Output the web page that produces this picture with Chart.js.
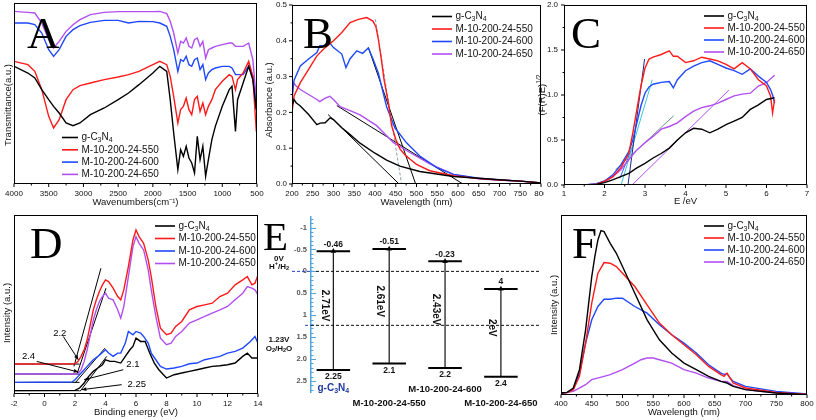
<!DOCTYPE html>
<html lang="en">
<head>
<meta charset="UTF-8">
<title>g-C3N4 and M-10-200-24 samples</title>
<script src="https://cdn.jsdelivr.net/npm/chart.js"></script>
<style>
  body { margin: 0; background: #fff; }
  #fig { position: relative; width: 816px; height: 420px; overflow: hidden; background: #fff; }
  #fig canvas { position: absolute; }
</style>
</head>
<body>
<div id="fig">
  <canvas id="chartA" width="268" height="210" style="left:0;top:0"></canvas>
  <canvas id="chartB" width="282" height="210" style="left:262px;top:0"></canvas>
  <canvas id="chartC" width="282" height="210" style="left:534px;top:0"></canvas>
  <canvas id="chartD" width="268" height="210" style="left:0;top:210px"></canvas>
  <canvas id="chartE" width="282" height="210" style="left:262px;top:210px"></canvas>
  <canvas id="chartF" width="272" height="210" style="left:544px;top:210px"></canvas>
</div>
<script>
// --- samples (legend order) ---
const sampleNames = ['g-C_3N_4', 'M-10-200-24-550', 'M-10-200-24-600', 'M-10-200-24-650'];
const sampleColors = ['#000000', '#ff1a1a', '#1f48ff', '#b24ff2'];

// --- A: FTIR, transmittance (a.u.) vs wavenumber ---
const ftirWave = [4000,3800,3700,3600,3500,3430,3350,3250,3150,3050,2900,2700,2500,2350,2200,2000,1900,1800,1750,1700,1640,1600,1560,1520,1480,1440,1400,1360,1320,1280,1240,1200,1150,1100,1000,900,860,810,780,700,620,560,510];
const ftirG = [360,340,325,290,260,240,220,190,182,190,215,235,260,280,305,340,360,345,260,160,50,110,90,120,85,70,40,150,80,120,30,80,140,180,240,290,300,165,260,310,360,320,230];
const ftir550 = [375,365,345,290,210,175,200,260,290,302,310,320,328,335,345,365,375,365,330,270,190,230,240,265,230,215,260,270,225,250,215,240,260,290,315,335,330,290,320,340,375,330,165];
const ftir600 = [490,490,485,460,410,390,410,450,470,482,492,498,498,490,495,494,490,480,450,410,345,380,375,390,365,360,380,385,350,365,320,340,350,355,360,360,355,335,335,335,360,330,230];
const ftir650 = [525,522,520,490,440,415,435,465,485,500,515,522,524,524,524,524,525,518,495,460,400,435,430,445,420,415,440,445,420,435,385,410,415,420,425,430,430,420,420,420,430,380,260];

// --- B: UV-vis absorbance vs wavelength ---
const bWaveG = [200,205,210,220,240,260,268,280,292,300,320,340,364,400,428,460,508,589,650,700,750,800];
const bAbsG = [0.218,0.236,0.227,0.218,0.194,0.166,0.17,0.171,0.185,0.18,0.157,0.138,0.114,0.086,0.067,0.05,0.035,0.021,0.016,0.012,0.008,0.003];
const bWave550 = [200,205,220,240,260,280,300,320,340,360,380,395,402,408,415,422,432,440,450,460,472,484,500,532,589,650,700,750,800];
const bAbs550 = [0.199,0.246,0.283,0.32,0.358,0.381,0.40,0.423,0.451,0.46,0.465,0.455,0.44,0.405,0.35,0.29,0.228,0.163,0.125,0.098,0.082,0.07,0.055,0.037,0.023,0.015,0.011,0.008,0.003];
const bWave600 = [200,205,220,240,260,267,280,290,300,320,330,340,356,370,384,395,408,428,448,476,508,549,589,650,700,750,800];
const bAbs600 = [0.236,0.29,0.33,0.349,0.367,0.386,0.386,0.395,0.381,0.363,0.325,0.35,0.372,0.365,0.38,0.35,0.31,0.216,0.157,0.115,0.078,0.046,0.027,0.016,0.011,0.008,0.003];
const bWave650 = [200,210,220,240,260,267,280,291,300,316,340,364,404,444,484,532,589,653,700,750,800];
const bAbs650 = [0.288,0.274,0.264,0.25,0.236,0.23,0.24,0.245,0.236,0.216,0.205,0.193,0.163,0.116,0.088,0.056,0.027,0.014,0.011,0.008,0.003];
// tangent lines (last one grey dashed)
const bFitX = [[287, 458], [308, 612], [384, 498], [401, 464]];
const bFitY = [[0.194, 0], [0.219, 0], [0.381, 0], [0.46, 0]];

// --- C: Tauc plot ---
const cE1 = [1.5,1.8,2.0,2.2,2.4,2.6,2.7,2.8,2.9,3.0,3.1,3.2,3.4,3.6,3.7,3.8,4.0,4.2,4.4,4.6,4.8,5.0,5.2,5.4,5.6,5.8,6.0,6.1,6.15,6.2];
const cTauc550 = [0,0.01,0.04,0.09,0.19,0.35,0.58,0.84,1.1,1.3,1.4,1.42,1.45,1.49,1.43,1.43,1.36,1.38,1.42,1.4,1.38,1.34,1.29,1.36,1.29,1.17,1.1,0.99,0.8,0.95];
const cTauc600 = [0,0.015,0.045,0.11,0.22,0.37,0.5,0.69,0.88,1.02,1.09,1.12,1.14,1.15,1.08,1.17,1.27,1.32,1.36,1.38,1.34,1.3,1.27,1.23,1.29,1.21,1.14,1.06,1.0,0.91];
const cE2 = [1.5,1.8,2.0,2.2,2.4,2.6,2.8,3.0,3.2,3.4,3.6,3.8,4.0,4.2,4.4,4.6,4.8,5.0,5.2,5.4,5.6,5.8,6.0,6.2];
const cTaucG = [0,0.007,0.026,0.056,0.093,0.13,0.19,0.24,0.3,0.35,0.41,0.5,0.58,0.63,0.62,0.58,0.62,0.67,0.71,0.75,0.84,0.89,0.95,0.97];
const cTauc650 = [0,0.01,0.04,0.09,0.17,0.28,0.39,0.47,0.54,0.62,0.65,0.69,0.76,0.82,0.86,0.88,0.91,0.95,0.99,1.01,1.02,1.1,1.14,1.22];
const cFitX = [[2.58, 2.99], [2.41, 3.18], [2.27, 3.71], [2.68, 5.07], [2.38, 2.71]];
const cFitY = [[0, 1.40], [0, 1.17], [0.168, 0.77], [0, 1.054], [0.075, 0.447]];
const cFitColors = ['#1c2a8a', '#3cc4d8', '#6f9a8a', '#b24ff2', '#2a5cff'];

// --- D: VB-XPS ---
const dE1 = [-2,2.0,2.2,2.4,2.6,2.8,3.0,3.2,3.4,3.6,3.8,4.0,4.2,4.5,4.8,5.0,5.2,5.5,5.8,6.0,6.2,6.5,6.8,7.0,7.3,7.6,8.0,8.3,8.6,9.0,9.5,10.0,10.5,11.0,11.5,12.0,12.5,13.0,13.3,13.6,13.8,14];
const dInt550 = [90,91,98,113,133,163,208,253,283,308,328,343,338,318,293,283,313,383,463,493,473,453,403,353,263,198,178,183,203,218,253,263,268,273,293,303,328,343,353,328,333,358];
const dInt650 = [60,60,61,73,98,133,178,223,253,278,293,303,288,283,253,228,263,353,443,473,453,433,373,313,233,168,148,153,173,188,213,223,233,243,253,263,283,303,323,318,313,298];
const dE2 = [-2,1.8,2.0,2.2,2.4,2.6,2.8,3.0,3.2,3.5,3.8,4.0,4.2,4.5,4.8,5.0,5.3,5.5,5.8,6.0,6.3,6.5,6.8,7.0,7.3,7.6,8.0,8.5,9.0,9.5,10.0,10.5,11.0,11.5,12.0,12.5,13.0,13.5,13.8,14];
const dInt600 = [35,36,43,53,63,73,83,93,103,113,125,133,123,113,123,123,153,188,178,188,183,173,153,123,103,83,75,78,83,91,93,103,108,113,123,128,138,158,173,153];
const dE3 = [-2,2.0,2.3,2.6,2.9,3.2,3.5,3.8,4.0,4.3,4.6,5.0,5.3,5.6,5.8,6.0,6.3,6.6,6.9,7.2,7.5,7.8,8.0,8.5,9.0,9.5,10.0,10.5,11.0,11.5,12.0,12.5,13.0,13.3,13.6,14];
const dIntG = [10,11,18,33,53,68,78,88,103,98,98,93,113,133,143,168,158,158,123,93,73,58,48,58,63,68,73,78,83,85,88,93,113,123,108,108];
const dFitX = [[-2, 2.3], [-2, 2.3], [-2, 2.3], [-2, 2.3], [1.93, 3.7], [2.15, 4.03], [2.0, 3.97], [2.33, 4.08]];
const dFitY = [[10, 10], [35, 35], [60, 60], [90, 90], [83, 378], [63, 318], [33, 138], [8, 113]];
const dArrowFrom = [[1.23, 173], [-0.51, 98], [5.17, 73], [5.06, 28]];
const dArrowTo = [[2.22, 103], [2.22, 66], [2.6, 43], [2.44, 13]];
const dArrowText = ['2.2', '2.4', '2.1', '2.25'];
const dLabelAt = [[1.0, 181], [-1.05, 112], [5.8, 88], [6.05, 28]];

// --- E: band positions (V) ---
const bandSlots = [1, 2, 3, 4];
const bandCB = [-0.46, -0.51, -0.23, 0.4];
const bandVB = [2.25, 2.1, 2.2, 2.4];
const bandCBText = ['-0.46', '-0.51', '-0.23', '4'];
const bandVBText = ['2.25', '2.1', '2.2', '2.4'];
const bandGapText = ['2.71eV', '2.61eV', '2.43eV', '2eV'];
const refLevels = [0, 1.23];
const eTickVals = [-1, -0.5, 0, 0.5, 1, 1.5, 2, 2.5];
const eTickText = ['-1', '-0.5', '0', '0.5', '1', '1.5', '2.0', '2.5'];

// --- F: PL spectra ---
const fWaveG = [400,410,420,430,440,450,455,460,465,470,480,490,500,520,540,560,580,600,620,640,660,670,680,700,750,800];
const fPlG = [6,8,21,76,196,356,416,466,494,491,456,426,386,306,226,166,126,96,76,56,41,36,26,16,6,1];
const fWave2 = [400,410,420,430,440,450,460,470,480,490,500,520,540,560,580,600,620,640,660,665,670,675,680,700,750,800];
const fPl550 = [6,7,16,56,156,276,366,398,396,386,366,326,271,216,181,151,121,86,61,56,66,51,36,21,8,2];
const fPl600 = [6,8,18,66,156,226,266,288,288,291,291,266,246,211,181,156,126,91,66,62,64,51,41,26,11,3];
const fWave650 = [400,420,440,450,470,480,500,520,530,540,550,560,580,600,620,640,660,670,680,700,750,800];
const fPl650 = [4,11,31,46,56,61,76,96,106,111,111,106,96,76,66,51,41,41,28,16,6,2];

// ------------------------------------------------------------------
const FONT = '"Liberation Sans", Arial, sans-serif';
Chart.defaults.font.family = FONT;
Chart.defaults.color = '#111';

const pts = (xs, ys) => xs.map((x, i) => ({ x: x, y: ys[i] }));

function series(xs, ys, i) {
  return { label: sampleNames[i], data: pts(xs, ys), borderColor: sampleColors[i],
           borderWidth: 1.4, pointRadius: 0, tension: 0, fill: false };
}

function fitLines(fx, fy, colors, dash) {
  return fx.map((x, i) => ({
    fit: true, data: pts(x, fy[i]),
    borderColor: Array.isArray(colors) ? colors[i] : colors,
    borderWidth: 1, pointRadius: 0, borderDash: dash ? dash[i] : []
  }));
}

// text with _sub and ^sup parts
function richText(ctx, str, x, y, size, align, weight) {
  const parts = [];
  const re = /([_^])(\{[^}]*\}|.)/g;
  let last = 0, m;
  while ((m = re.exec(str))) {
    if (m.index > last) parts.push({ t: str.slice(last, m.index), k: 0 });
    let t = m[2];
    if (t[0] === '{') t = t.slice(1, -1);
    parts.push({ t: t, k: m[1] === '_' ? 1 : -1 });
    last = re.lastIndex;
  }
  if (last < str.length) parts.push({ t: str.slice(last), k: 0 });
  const w = weight || 'normal';
  let total = 0;
  parts.forEach(p => {
    p.f = w + ' ' + (p.k ? size * 0.7 : size) + 'px ' + FONT;
    ctx.font = p.f;
    p.w = ctx.measureText(p.t).width;
    total += p.w;
  });
  let cx = align === 'center' ? x - total / 2 : (align === 'right' ? x - total : x);
  ctx.textAlign = 'left';
  ctx.textBaseline = 'middle';
  parts.forEach(p => {
    ctx.font = p.f;
    const dy = p.k === 1 ? size * 0.3 : (p.k === -1 ? -size * 0.35 : 0);
    ctx.fillText(p.t, cx, y + dy);
    cx += p.w;
  });
}

function xScale(min, max, step, title, h, pad, extra) {
  return Object.assign({
    type: 'linear', min: min, max: max,
    grid: { display: false, drawTicks: false }, border: { display: false },
    ticks: { stepSize: step, autoSkip: false, maxRotation: 0, padding: pad, font: { size: 8 }, color: '#111',
             callback: v => String(v) },
    title: { display: true, text: title, font: { size: 9.5 }, color: '#111', padding: { top: 0, bottom: 2 } },
    afterFit: s => { s.height = h; s.paddingLeft = 0; s.paddingRight = 0; }
  }, extra || {});
}

function yScale(min, max, w, title, titlePad, step, pad) {
  const ticks = step
    ? { stepSize: step, padding: pad, font: { size: 8 }, color: '#111', callback: v => v.toFixed(1) }
    : { display: false };
  return {
    type: 'linear', min: min, max: max,
    grid: { display: false, drawTicks: false }, border: { display: false },
    ticks: ticks,
    title: { display: !!title, text: title || '', font: { size: 9.5 }, color: '#111', padding: { top: titlePad, bottom: 0 } },
    afterFit: s => { s.width = w; s.paddingTop = 0; s.paddingBottom = 0; }
  };
}

// frame, tick marks, legend and panel letter
function decor(cfg) {
  return {
    id: 'decor' + cfg.letter,
    afterDatasetsDraw(chart) {
      const ctx = chart.ctx, a = chart.chartArea;
      ctx.save();
      ctx.strokeStyle = '#000';
      ctx.lineWidth = 1;
      const L = Math.round(a.left) + 0.5, T = Math.round(a.top) + 0.5;
      const R = Math.round(a.right) - 0.5, B = Math.round(a.bottom) - 0.5;
      ctx.strokeRect(L, T, R - L, B - T);
      ctx.beginPath();
      const sx = chart.scales.x;
      const xp = sx.ticks.map(t => sx.getPixelForValue(t.value));
      xp.forEach((p, i) => {
        ctx.moveTo(p, B); ctx.lineTo(p, B + 3.5);
        if (i > 0) { const mm = (p + xp[i - 1]) / 2; ctx.moveTo(mm, B); ctx.lineTo(mm, B + 2); }
      });
      if (cfg.yTicks) {
        const sy = chart.scales.y;
        const yp = sy.ticks.map(t => sy.getPixelForValue(t.value));
        yp.forEach((p, i) => {
          ctx.moveTo(L, p); ctx.lineTo(L - 3.5, p);
          if (i > 0) { const mm = (p + yp[i - 1]) / 2; ctx.moveTo(L, mm); ctx.lineTo(L - 2, mm); }
        });
      }
      ctx.stroke();

      const lg = cfg.legend;
      chart.data.datasets.filter(d => !d.fit).forEach((d, i) => {
        const y = lg.y0 + i * lg.dy;
        ctx.strokeStyle = d.borderColor;
        ctx.lineWidth = 1.6;
        ctx.beginPath(); ctx.moveTo(lg.x0, y); ctx.lineTo(lg.x1, y); ctx.stroke();
        ctx.fillStyle = '#111';
        richText(ctx, d.label, lg.x1 + 3.5, y, 10, 'left');
      });

      if (cfg.yRich) {
        ctx.save();
        ctx.translate(cfg.yRich.x, cfg.yRich.y);
        ctx.rotate(-Math.PI / 2);
        ctx.fillStyle = '#111';
        richText(ctx, cfg.yRich.text, 0, 0, 9.5, 'center');
        ctx.restore();
      }

      ctx.fillStyle = '#000';
      ctx.font = (cfg.size || 45) + 'px "Liberation Serif", "Times New Roman", serif';
      ctx.textAlign = 'left';
      ctx.textBaseline = 'alphabetic';
      ctx.fillText(cfg.letter, cfg.lx, cfg.ly);
      ctx.restore();
    }
  };
}

function makeChart(id, datasets, scales, padding, plugins) {
  return new Chart(document.getElementById(id), {
    type: 'line',
    data: { datasets: datasets },
    options: {
      responsive: false, animation: false, events: [],
      layout: { padding: padding },
      plugins: { legend: { display: false }, tooltip: { enabled: false } },
      scales: scales
    },
    plugins: plugins
  });
}

// --- A ---
makeChart('chartA',
  [series(ftirWave, ftirG, 0), series(ftirWave, ftir550, 1), series(ftirWave, ftir600, 2), series(ftirWave, ftir650, 3)],
  { x: xScale(500, 4000, 500, 'Wavenumbers(cm\u207B\u00B9)', 26, 5, { reverse: true }),
    y: yScale(7, 550, 14, '', 0) },
  { top: 3, right: 11, left: 0, bottom: 0 },
  [decor({ letter: 'A', lx: 27, ly: 48, legend: { x0: 62, x1: 78, y0: 137.5, dy: 12.3 },
           yRich: { text: 'Transmittance(a.u.)', x: 8, y: 105 } })]);

// --- B ---
makeChart('chartB',
  [series(bWaveG, bAbsG, 0), series(bWave550, bAbs550, 1), series(bWave600, bAbs600, 2), series(bWave650, bAbs650, 3)]
    .concat(fitLines(bFitX, bFitY, ['#000', '#000', '#000', '#8c9bab'], [[], [], [], [3, 2]])),
  { x: xScale(200, 800, 50, 'Wavelength (nm)', 26, 5),
    y: yScale(0, 0.5, 30, '', 0, 0.1, 5) },
  { top: 5, right: 3, left: 0, bottom: 0 },
  [decor({ letter: 'B', lx: 41, ly: 48, yTicks: true, legend: { x0: 170, x1: 190, y0: 16.5, dy: 12.5 },
           yRich: { text: 'Absorbance (a.u.)', x: 7.5, y: 100 } })]);

// --- C ---
makeChart('chartC',
  [series(cE2, cTaucG, 0), series(cE1, cTauc550, 1), series(cE1, cTauc600, 2), series(cE2, cTauc650, 3)]
    .concat(fitLines(cFitX, cFitY, cFitColors)),
  { x: xScale(1, 7, 1, 'E /eV', 25, 4, { title: { display: true, text: 'E /eV', font: { size: 9.5 }, color: '#111', padding: { top: 0, bottom: 3 } } }),
    y: yScale(0, 2, 30, '', 0, 0.5, 6) },
  { top: 5, right: 9, left: 0, bottom: 0 },
  [decor({ letter: 'C', lx: 37, ly: 48, yTicks: true, legend: { x0: 170, x1: 190, y0: 16, dy: 12 },
           yRich: { text: '(F(R)E)^{1/2}', x: 8, y: 95 } })]);

// --- D ---
const dNotes = {
  id: 'dNotes',
  afterDatasetsDraw(chart) {
    const ctx = chart.ctx, sx = chart.scales.x, sy = chart.scales.y;
    ctx.save();
    ctx.strokeStyle = '#000';
    ctx.fillStyle = '#000';
    ctx.lineWidth = 1;
    dArrowText.forEach((t, i) => {
      const x0 = sx.getPixelForValue(dArrowFrom[i][0]), y0 = sy.getPixelForValue(dArrowFrom[i][1]);
      const x1 = sx.getPixelForValue(dArrowTo[i][0]), y1 = sy.getPixelForValue(dArrowTo[i][1]);
      const ang = Math.atan2(y1 - y0, x1 - x0);
      ctx.beginPath(); ctx.moveTo(x0, y0); ctx.lineTo(x1, y1); ctx.stroke();
      ctx.beginPath();
      ctx.moveTo(x1, y1);
      ctx.lineTo(x1 - 5 * Math.cos(ang - 0.4), y1 - 5 * Math.sin(ang - 0.4));
      ctx.lineTo(x1 - 5 * Math.cos(ang + 0.4), y1 - 5 * Math.sin(ang + 0.4));
      ctx.closePath(); ctx.fill();
      ctx.font = '9.5px ' + FONT;
      ctx.textAlign = 'center';
      ctx.textBaseline = 'middle';
      ctx.fillText(t, sx.getPixelForValue(dLabelAt[i][0]), sy.getPixelForValue(dLabelAt[i][1]));
    });
    ctx.restore();
  }
};
makeChart('chartD',
  [series(dE3, dIntG, 0), series(dE1, dInt550, 1), series(dE2, dInt600, 2), series(dE1, dInt650, 3)]
    .concat(fitLines(dFitX, dFitY, '#000')),
  { x: xScale(-2, 14, 2, 'Binding energy (eV)', 26, 5),
    y: yScale(0, 538, 14, '', 0) },
  { top: 5, right: 10, left: 0, bottom: 0 },
  [dNotes, decor({ letter: 'D', lx: 30, ly: 48, legend: { x0: 155, x1: 175, y0: 16, dy: 12.5 },
                   yRich: { text: 'Intensity (a.u.)', x: 7, y: 103 } })]);

// --- E ---
const eSets = [];
bandSlots.forEach((s, i) => {
  eSets.push({ data: pts([s - 0.3, s + 0.3], [bandCB[i], bandCB[i]]), borderColor: '#000', borderWidth: 2, pointRadius: 0 });
  eSets.push({ data: pts([s - 0.3, s + 0.3], [bandVB[i], bandVB[i]]), borderColor: '#000', borderWidth: 2, pointRadius: 0 });
  eSets.push({ data: pts([s, s], [bandVB[i], bandCB[i]]), borderColor: '#111', borderWidth: 1.2,
               pointRadius: [0, 3.2], pointStyle: 'triangle', pointBackgroundColor: '#111', pointBorderWidth: 0 });
});
refLevels.forEach(v => eSets.push({ data: pts([0.6, 4.7], [v, v]), borderColor: '#111', borderWidth: 1, borderDash: [3, 2], pointRadius: 0 }));

const eNotes = {
  id: 'eNotes',
  afterDatasetsDraw(chart) {
    const ctx = chart.ctx, sx = chart.scales.x, sy = chart.scales.y, a = chart.chartArea;
    ctx.save();
    // minor / major ticks on the right of the potential axis
    ctx.strokeStyle = '#4fa6dc';
    ctx.lineWidth = 1;
    ctx.beginPath();
    for (let k = -12; k <= 27; k++) {
      const p = Math.round(sy.getPixelForValue(k / 10)) + 0.5;
      const len = k % 5 === 0 ? 5 : 2.5;
      ctx.moveTo(a.left, p); ctx.lineTo(a.left + len, p);
    }
    ctx.stroke();
    // blue dashed stubs left of the axis
    ctx.strokeStyle = '#2a3fd0';
    ctx.setLineDash([3, 2]);
    const stub = [30, 43];
    refLevels.forEach((v, i) => {
      const p = sy.getPixelForValue(v);
      ctx.beginPath(); ctx.moveTo(stub[i], p); ctx.lineTo(a.left, p); ctx.stroke();
    });
    ctx.setLineDash([]);

    ctx.fillStyle = '#111';
    const z = sy.getPixelForValue(refLevels[0]), w = sy.getPixelForValue(refLevels[1]);
    richText(ctx, '0V', 17, z - 13, 8, 'center', 'bold');
    richText(ctx, 'H^+/H_2', 17, z - 5, 8, 'center', 'bold');
    richText(ctx, '1.23V', 17, w + 14, 8, 'center', 'bold');
    richText(ctx, 'O_2/H_2O', 17, w + 23, 8, 'center', 'bold');

    const nameY = [178, 193, 179, 193];
    bandSlots.forEach((s, i) => {
      const x = sx.getPixelForValue(s);
      const yc = sy.getPixelForValue(bandCB[i]), yv = sy.getPixelForValue(bandVB[i]);
      ctx.fillStyle = '#111';
      richText(ctx, bandCBText[i], x, yc - 7, 8.5, 'center', 'bold');
      richText(ctx, bandVBText[i], x, yv + 7, 8.5, 'center', 'bold');
      ctx.save();
      ctx.translate(x - 9, (yc + yv) / 2 - 5);
      ctx.rotate(Math.PI / 2);
      richText(ctx, bandGapText[i], 0, 0, 10, 'center', 'bold');
      ctx.restore();
      ctx.fillStyle = i === 0 ? '#1f3b9e' : '#111';
      richText(ctx, sampleNames[i], x, nameY[i], i === 0 ? 10 : 9.5, 'center', 'bold');
    });

    ctx.fillStyle = '#000';
    ctx.font = '41px "Liberation Serif", "Times New Roman", serif';
    ctx.textAlign = 'left';
    ctx.textBaseline = 'alphabetic';
    ctx.fillText('E', 1, 40);
    ctx.restore();
  }
};

makeChart('chartE', eSets,
  { x: { type: 'linear', min: 0.6, max: 4.7, display: false },
    y: { type: 'linear', min: -1.24, max: 2.75, reverse: true,
         afterBuildTicks: s => { s.ticks = eTickVals.map(v => ({ value: v })); },
         ticks: { padding: 4, autoSkip: false, font: { size: 7.5, weight: 'bold' }, color: '#555',
                  callback: (v, i) => eTickText[i] },
         grid: { display: false, drawTicks: false },
         border: { display: true, color: '#4fa6dc', width: 1.5 },
         afterFit: s => { s.width = 49; s.paddingTop = 0; s.paddingBottom = 0; } } },
  { top: 7, right: 0, left: 0, bottom: 28 },
  [eNotes]);

// --- F ---
makeChart('chartF',
  [series(fWaveG, fPlG, 0), series(fWave2, fPl550, 1), series(fWave2, fPl600, 2), series(fWave650, fPl650, 3)],
  { x: xScale(400, 800, 50, 'Wavelength (nm)', 25, 4),
    y: yScale(0, 541, 17, 'Intensity (a.u.)', 4.3) },
  { top: 5, right: 9, left: 0, bottom: 0 },
  [decor({ letter: 'F', lx: 28, ly: 48, legend: { x0: 160, x1: 180, y0: 16, dy: 12 } })]);
</script>
</body>
</html>
